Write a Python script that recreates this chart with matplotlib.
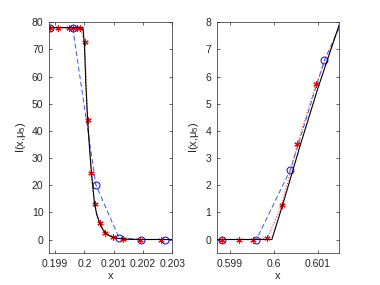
import matplotlib
matplotlib.use('Agg')
import matplotlib.pyplot as plt

plt.rcParams['font.family'] = ['Liberation Sans', 'DejaVu Sans']
plt.rcParams['mathtext.fontset'] = 'custom'
plt.rcParams['mathtext.rm'] = 'Liberation Sans'
plt.rcParams['mathtext.it'] = 'Liberation Sans'

# left panel (shock near x = 0.2)
ref_x1 = [0.19870, 0.19995, 0.20000, 0.20005, 0.20011, 0.20018, 0.20024, 0.20030,
          0.20035, 0.20042, 0.20052, 0.20062, 0.20072, 0.20085, 0.20099, 0.20115,
          0.20133, 0.20160, 0.20190, 0.20310]
ref_y1 = [78, 78, 72, 57, 44, 33, 24.5, 18, 13, 9.2, 6.1, 3.8, 2.4, 1.4, 0.8, 0.4,
          0.15, 0.05, 0, 0]
fine_x1 = [0.19882, 0.19910, 0.19948, 0.19960, 0.19973, 0.19985, 0.20001, 0.20011,
           0.20024, 0.20035, 0.20052, 0.20072, 0.20099, 0.20133, 0.20190, 0.20262, 0.20330]
fine_y1 = [78, 78, 78, 78, 78, 78, 72.8, 44, 24.4, 12.9, 6.2, 2.4, 0.8, 0.2, 0, 0, 0]
coarse_x1 = [0.19882, 0.19960, 0.20039, 0.20118, 0.20195, 0.20275]
coarse_y1 = [78, 78, 20.2, 0.7, 0, 0]

# right panel (kink near x = 0.6)
ref_x2 = [0.59860, 0.59996, 0.60020, 0.60060, 0.60100, 0.60160]
ref_y2 = [0, 0, 1.25, 3.45, 5.55, 8.45]
fine_x2 = [0.59883, 0.59921, 0.59953, 0.59986, 0.60019, 0.60054, 0.60096, 0.60160]
fine_y2 = [0, 0, 0, 0.06, 1.28, 3.52, 5.71, 8.3]
coarse_x2 = [0.59883, 0.59961, 0.60038, 0.60115, 0.60192]
coarse_y2 = [0, 0, 2.57, 6.6, 9.3]

fig = plt.figure(figsize=(3.8, 2.85), dpi=100)
ax1 = fig.add_axes([0.129, 0.112, 0.324, 0.81])
ax2 = fig.add_axes([0.571, 0.112, 0.321, 0.81])

panels = [
    (ax1, ref_x1, ref_y1, fine_x1, fine_y1, coarse_x1, coarse_y1,
     (0.19879, 0.20300), (-5, 80), [0.199, 0.2, 0.201, 0.202, 0.203],
     ['0.199', '0.2', '0.201', '0.202', '0.203'], range(0, 81, 10)),
    (ax2, ref_x2, ref_y2, fine_x2, fine_y2, coarse_x2, coarse_y2,
     (0.598715, 0.601482), (-0.5, 8), [0.599, 0.6, 0.601],
     ['0.599', '0.6', '0.601'], range(0, 9)),
]

for ax, rx, ry, fx, fy, cx, cy, xl, yl, xt, xtl, yt in panels:
    ax.plot(cx, cy, '--', color='#3355ff', lw=0.7, dashes=(5, 3))
    ax.plot(cx, cy, 'o', color='#0000ff', ms=5, mfc='none', mew=0.7)
    ax.plot(fx, fy, ':', color='#ff3333', lw=0.8)
    ax.plot(fx, fy, ls='none', marker=(6, 2, 0), color='#ff0000', ms=4.5, mew=0.8)
    ax.plot(rx, ry, '-', color='black', lw=0.8)
    ax.set_xlim(*xl)
    ax.set_ylim(*yl)
    ax.set_xticks(xt)
    ax.set_xticklabels(xtl)
    ax.set_yticks(list(yt))
    ax.tick_params(direction='in', top=True, right=True, labelsize=7.5,
                   length=2.5, width=0.5, colors='#262626', pad=4)
    for s in ax.spines.values():
        s.set_linewidth(0.5)
        s.set_color('#262626')
    ax.set_xlabel('x', fontsize=8, color='#262626', labelpad=2)
    ax.set_ylabel('I(x,μ$_5$)', fontsize=8, color='#262626', labelpad=3)

fig.savefig('out.png', dpi=100)
